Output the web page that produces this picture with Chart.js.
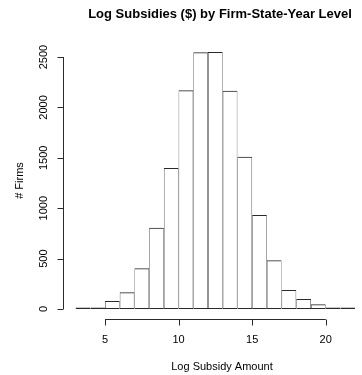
<!DOCTYPE html>
<html>
<head>
<meta charset="utf-8">
<script src="https://cdn.jsdelivr.net/npm/chart.js@4"></script>
<style>
  html, body { margin: 0; padding: 0; background: #fff; }
  #wrap { width: 362px; height: 375px; }
</style>
</head>
<body>
<div id="wrap"><canvas id="histChart" width="362" height="375"></canvas></div>
<script>
// bin edges (left edge of each 1-unit bin) and counts
const binStarts = [3, 4, 5, 6, 7, 8, 9, 10, 11, 12, 13, 14, 15, 16, 17, 18, 19, 20, 21];
const firmCounts = [3, 12, 79, 166, 404, 806, 1399, 2170, 2547, 2550, 2166, 1511, 933, 483, 188, 99, 47, 12, 6];
const xTicks = [5, 10, 15, 20];
const yTicks = [0, 500, 1000, 1500, 2000, 2500];

const titleText = "Log Subsidies ($) by Firm-State-Year Level";
const xLabel = "Log Subsidy Amount";
const yLabel = "# Firms";

const FONT = "'Liberation Sans', Arial, Helvetica, sans-serif";
const LINE = "#2a2a2a";

// R-style axes: detached lines that only span the tick range
const baseAxes = {
    id: "baseAxes",
    afterDraw(chart) {
        const c = chart.ctx;
        const xs = chart.scales.x, ys = chart.scales.y;
        const area = chart.chartArea;
        c.save();
        c.strokeStyle = LINE;
        c.lineWidth = 1;
        c.fillStyle = "#000";
        c.font = "11px " + FONT;

        // x axis
        const ay = Math.round(area.bottom) + 0.5;
        c.beginPath();
        c.moveTo(xs.getPixelForValue(xTicks[0]), ay);
        c.lineTo(xs.getPixelForValue(xTicks[xTicks.length - 1]), ay);
        xTicks.forEach(t => {
            const px = Math.round(xs.getPixelForValue(t)) + 0.5;
            c.moveTo(px, ay);
            c.lineTo(px, ay + 6);
        });
        c.stroke();
        c.textAlign = "center";
        c.textBaseline = "middle";
        xTicks.forEach(t => c.fillText(String(t), xs.getPixelForValue(t), 340));

        // y axis
        const ax = Math.round(area.left) - 0.5;
        c.beginPath();
        c.moveTo(ax, ys.getPixelForValue(yTicks[0]));
        c.lineTo(ax, ys.getPixelForValue(yTicks[yTicks.length - 1]));
        yTicks.forEach(t => {
            const py = Math.round(ys.getPixelForValue(t)) + 0.5;
            c.moveTo(ax, py);
            c.lineTo(ax - 6, py);
        });
        c.stroke();
        yTicks.forEach(t => {
            c.save();
            c.translate(44, ys.getPixelForValue(t));
            c.rotate(-Math.PI / 2);
            c.fillText(String(t), 0, 0);
            c.restore();
        });

        // axis titles
        c.fillText(xLabel, 222, 367);
        c.save();
        c.translate(20, (area.top + area.bottom) / 2);
        c.rotate(-Math.PI / 2);
        c.fillText(yLabel, 0, 0);
        c.restore();

        // main title
        c.font = "bold 13px " + FONT;
        c.fillText(titleText, 220, 14);
        c.restore();
    }
};

const ctx = document.getElementById("histChart").getContext("2d");

let histChart = new Chart(ctx, {
    type: "bar",
    data: {
        datasets: [{
            label: "Firms",
            data: binStarts.map((b, i) => ({ x: b + 0.5, y: firmCounts[i] })),
            backgroundColor: "rgba(255,255,255,0)",
            borderColor: LINE,
            // half-width side borders so neighbouring bars share one 1px edge
            borderWidth: { top: 1, bottom: 1, left: 0.5, right: 0.5 },
            borderSkipped: false,
            inflateAmount: 0,
            minBarLength: 1.5,
            barPercentage: 1,
            categoryPercentage: 1,
        }],
    },
    options: {
        responsive: false,
        animation: false,
        devicePixelRatio: 1,
        layout: { padding: { left: 64, top: 42, right: 0, bottom: 56 } },
        plugins: {
            legend: { display: false },
            tooltip: { enabled: false },
        },
        scales: {
            x: {
                type: "linear", min: 2.213, max: 22.467, offset: false, display: false,
                // keep only the labelled ticks so bar width comes from the 1-unit bins
                afterBuildTicks: s => { s.ticks = xTicks.map(v => ({ value: v })); },
            },
            y: { min: -99, max: 2649, display: false },
        },
    },
    plugins: [baseAxes],
});
</script>
</body>
</html>
